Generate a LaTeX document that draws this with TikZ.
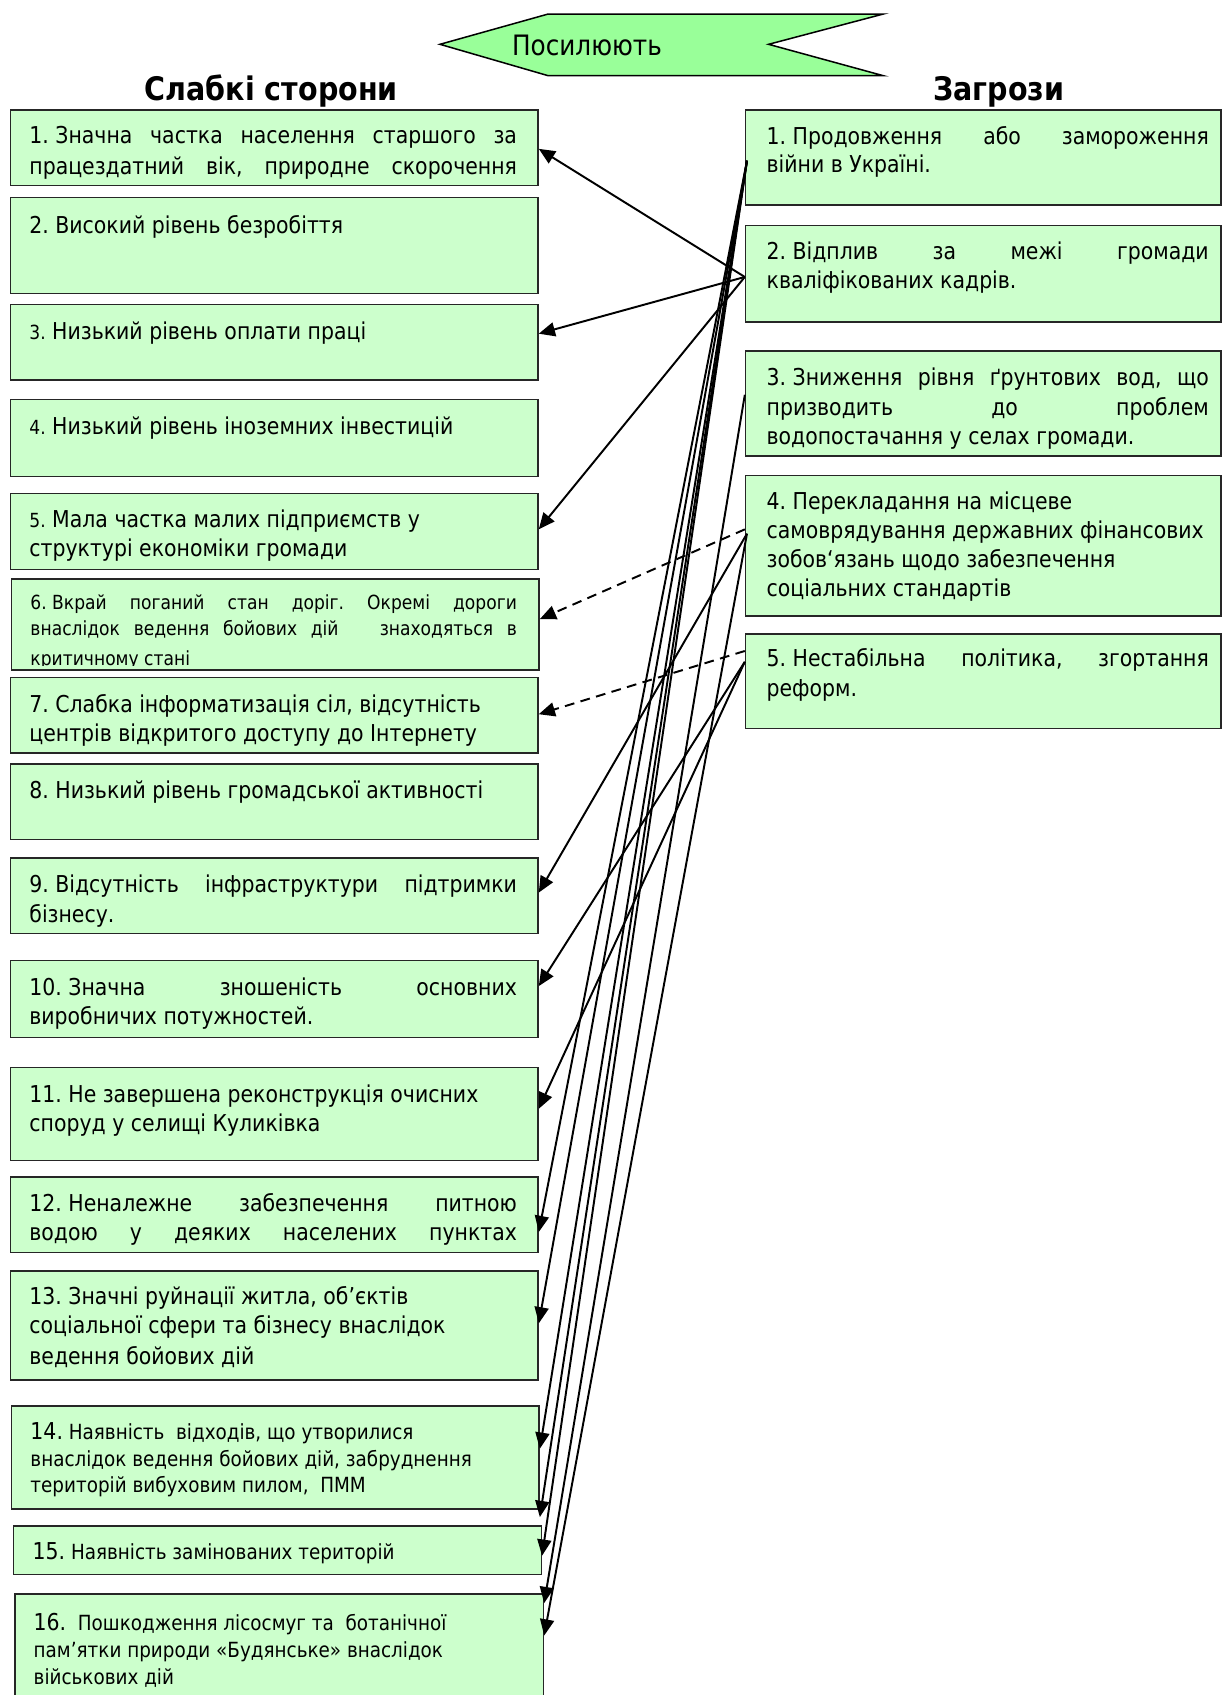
\documentclass[tikz,border=0pt]{standalone}
\usepackage{fontspec}
\setmainfont{DejaVu Sans}[FakeStretch=0.88]
\usetikzlibrary{arrows.meta,calc}
\definecolor{boxfill}{RGB}{204,255,204}
\definecolor{banfill}{RGB}{153,255,153}
\frenchspacing
\newcommand\jl[2]{\makebox[#1pt][s]{#2}}
\newcommand\snum{\fontsize{18}{24}\selectfont}
\newcommand\bnum{\fontsize{21.5}{27}\selectfont}
\begin{document}
\begin{tikzpicture}[x=1pt,y=-1pt,
  wbox/.style={draw=black!85,line width=1.4pt,fill=boxfill,rectangle,inner sep=0pt,anchor=north west},
  tx/.style={anchor=base west,inner sep=0pt,font=\fontsize{21.5}{27}\selectfont},
  txs/.style={anchor=base west,inner sep=0pt,font=\fontsize{18}{24}\selectfont},
  txm/.style={anchor=base west,inner sep=0pt,font=\fontsize{19.3}{25}\selectfont},
  head/.style={inner sep=0pt,anchor=base,font=\fontsize{30}{35}\selectfont\bfseries},
  arr/.style={line width=1.8pt,-{Triangle[length=15pt,width=13pt]}},
  dsh/.style={dash pattern=on 9pt off 6pt}]
\useasboundingbox (0,0) rectangle (1130,1568);

% banner
\draw[fill=banfill,line width=1.4pt] (407,41) -- (507,13) -- (817,13) -- (711,41) -- (817,70) -- (507,70) -- cycle;
\node[anchor=base,inner sep=0pt,font=\fontsize{26}{30}\selectfont] (ban) at (543,51) {Посилюють};

% headings
\node[head] (hw) at (251,93) {Слабкі сторони};
\node[head] (ht) at (924,93) {Загрози};

% left boxes
\node[wbox,minimum width=488pt,minimum height=70pt] (w1) at (9,101) {};
\node[wbox,minimum width=488pt,minimum height=89pt] (w2) at (9,182) {};
\node[wbox,minimum width=488pt,minimum height=70pt] (w3) at (9,281) {};
\node[wbox,minimum width=488pt,minimum height=71pt] (w4) at (9,369) {};
\node[wbox,minimum width=488pt,minimum height=70pt] (w5) at (9,456) {};
\node[wbox,minimum width=488pt,minimum height=84pt] (w6) at (10,535) {};
\node[wbox,minimum width=488pt,minimum height=70pt] (w7) at (9,626) {};
\node[wbox,minimum width=488pt,minimum height=70pt] (w8) at (9,706) {};
\node[wbox,minimum width=488pt,minimum height=70pt] (w9) at (9,793) {};
\node[wbox,minimum width=488pt,minimum height=71pt] (w10) at (9,888) {};
\node[wbox,minimum width=488pt,minimum height=86pt] (w11) at (9,987) {};
\node[wbox,minimum width=488pt,minimum height=70pt] (w12) at (9,1088) {};
\node[wbox,minimum width=488pt,minimum height=101pt] (w13) at (9,1175) {};
\node[wbox,minimum width=488pt,minimum height=95pt] (w14) at (10,1300) {};
\node[wbox,minimum width=488pt,minimum height=45pt] (w15) at (12,1411) {};
\node[wbox,minimum width=489pt,minimum height=110pt] (w16) at (13,1474) {};

% right boxes
\node[wbox,minimum width=440pt,minimum height=88pt] (t1) at (689,101) {};
\node[wbox,minimum width=440pt,minimum height=89pt] (t2) at (689,208) {};
\node[wbox,minimum width=440pt,minimum height=97pt] (t3) at (689,324) {};
\node[wbox,minimum width=440pt,minimum height=130pt] (t4) at (689,439) {};
\node[wbox,minimum width=440pt,minimum height=87pt] (t5) at (689,586) {};

% left texts
\begin{scope}
\clip (w1.north west) rectangle ($(w1.south east)+(0,-5)$);
\node[tx] (w1a) at (27,133) {\jl{451}{\mbox{1. Значна} частка населення старшого за}};
\node[tx] (w1b) at (27,161) {\jl{451}{працездатний вік, природне скорочення}};
\end{scope}
\node[tx] (w2a) at (27,216) {2. Високий рівень безробіття};
\node[tx] (w3a) at (27,314) {{\snum 3.} Низький рівень оплати праці};
\node[tx] (w4a) at (27,402) {{\snum 4.} Низький рівень іноземних інвестицій};
\begin{scope}
\clip (w5.north west) rectangle ($(w5.south east)+(0,-5)$);
\node[tx] (w5a) at (27,488) {{\snum 5.} Мала частка малих підприємств у};
\node[tx] (w5b) at (27,515) {структурі економіки громади};
\end{scope}
\begin{scope}
\clip (w6.north west) rectangle ($(w6.south east)+(0,-5)$);
\node[txs] (w6a) at (28,564) {\jl{450}{\mbox{6. Вкрай} поганий стан доріг. Окремі дороги}};
\node[txs] (w6b) at (28,588) {\jl{450}{внаслідок ведення бойових дій \ \ знаходяться в}};
\node[txs] (w6c) at (28,616) {критичному стані};
\end{scope}
\begin{scope}
\clip (w7.north west) rectangle ($(w7.south east)+(0,-5)$);
\node[tx] (w7a) at (27,659) {7. Слабка інформатизація сіл, відсутність};
\node[tx] (w7b) at (27,686) {центрів відкритого доступу до Інтернету};
\end{scope}
\node[tx] (w8a) at (27,739) {8. Низький рівень громадської активності};
\node[tx] (w9a) at (27,826) {\jl{451}{\mbox{9. Відсутність} інфраструктури підтримки}};
\node[tx] (w9b) at (27,853) {бізнесу.};
\begin{scope}
\clip (w10.north west) rectangle ($(w10.south east)+(0,-5)$);
\node[tx] (w10a) at (27,921) {\jl{451}{\mbox{10. Значна} зношеність основних}};
\node[tx] (w10b) at (27,948) {виробничих потужностей.};
\end{scope}
\node[tx] (w11a) at (27,1020) {11. Не завершена реконструкція очисних};
\node[tx] (w11b) at (27,1047) {споруд у селищі Куликівка};
\begin{scope}
\clip (w12.north west) rectangle ($(w12.south east)+(0,-5)$);
\node[tx] (w12a) at (27,1121) {\jl{451}{\mbox{12. Неналежне} забезпечення питною}};
\node[tx] (w12b) at (27,1148) {\jl{451}{водою у деяких населених пунктах}};
\end{scope}
\node[tx] (w13a) at (27,1207) {13. Значні руйнації житла, об’єктів};
\node[tx] (w13b) at (27,1234) {соціальної сфери та бізнесу внаслідок};
\node[tx] (w13c) at (27,1262) {ведення бойових дій};
\node[txm] (w14a) at (28,1332) {{\bnum 14.} Наявність \ відходів, що утворилися};
\node[txm] (w14b) at (28,1357) {внаслідок ведення бойових дій, забруднення};
\node[txm] (w14c) at (28,1381) {територій вибуховим пилом, \ ПММ};
\node[txm] (w15a) at (30,1443) {{\bnum 15.} Наявність замінованих територій};
\node[txm] (w16a) at (31,1508) {{\bnum 16.} \ Пошкодження лісосмуг та \ ботанічної};
\node[txm] (w16b) at (31,1533) {пам’ятки природи «Будянське» внаслідок};
\node[txm] (w16c) at (31,1558) {військових дій};

% right texts
\node[tx] (t1a) at (709,134) {\jl{409}{\mbox{1. Продовження} або замороження}};
\node[tx] (t1b) at (709,160) {війни в Україні.};
\node[tx] (t2a) at (709,240) {\jl{409}{\mbox{2. Відплив} за межі громади}};
\node[tx] (t2b) at (709,267) {кваліфікованих кадрів.};
\node[tx] (t3a) at (709,357) {\jl{409}{\mbox{3. Зниження} рівня ґрунтових вод, що}};
\node[tx] (t3b) at (709,384) {\jl{409}{призводить до проблем}};
\node[tx] (t3c) at (709,411) {водопостачання у селах громади.};
\node[tx] (t4a) at (709,471) {4. Перекладання на місцеве};
\node[tx] (t4b) at (709,498) {самоврядування державних фінансових};
\node[tx] (t4c) at (709,525) {зобов‘язань щодо забезпечення};
\node[tx] (t4d) at (709,552) {соціальних стандартів};
\node[tx] (t5a) at (709,617) {\jl{409}{\mbox{5. Нестабільна} політика, згортання}};
\node[tx] (t5b) at (709,644) {реформ.};

% sources
\coordinate (s1) at ($(t1.west)+(2,3)$);
\coordinate (s2) at ($(t2.west)+(0,3)$);
\coordinate (s3) at ($(t3.west)+(0,-8)$);
\coordinate (s4d) at ($(t4.west)+(0,-15)$);
\coordinate (s4) at ($(t4.west)+(2,-11)$);
\coordinate (s5d) at ($(t5.west)+(0,-28)$);
\coordinate (s5) at ($(t5.west)+(0,-18)$);

% connectors
\draw[arr] (s2) -- ($(w1.east)+(0,1)$);
\draw[arr] (s2) -- ($(w3.east)+(0,-8)$);
\draw[arr] (s2) -- ($(w5.east)+(0,-2)$);
\draw[arr,dsh] (s4d) -- ($(w6.east)+(0,-5)$);
\draw[arr] (s4) -- ($(w9.east)+(0,-3)$);
\draw[arr] (s4) -- ($(w16.north east)+(0,39)$);
\draw[arr,dsh] (s5d) -- ($(w7.east)+(0,-1)$);
\draw[arr] (s5) -- ($(w10.east)+(0,-12)$);
\draw[arr] (s5) -- ($(w11.east)+(0,-5)$);
\draw[arr] (s3) -- ($(w16.north east)+(0,9)$);
\draw[arr] (s1) -- ($(w12.east)+(0,16)$);
\draw[arr] (s1) -- ($(w13.east)+(0,-2)$);
\draw[arr] (s1) -- ($(w14.east)+(0,-8)$);
\draw[arr] (s1) -- ($(w14.south east)+(0,7)$);
\draw[arr] (s1) -- ($(w15.east)+(0,5)$);
\end{tikzpicture}
\end{document}
